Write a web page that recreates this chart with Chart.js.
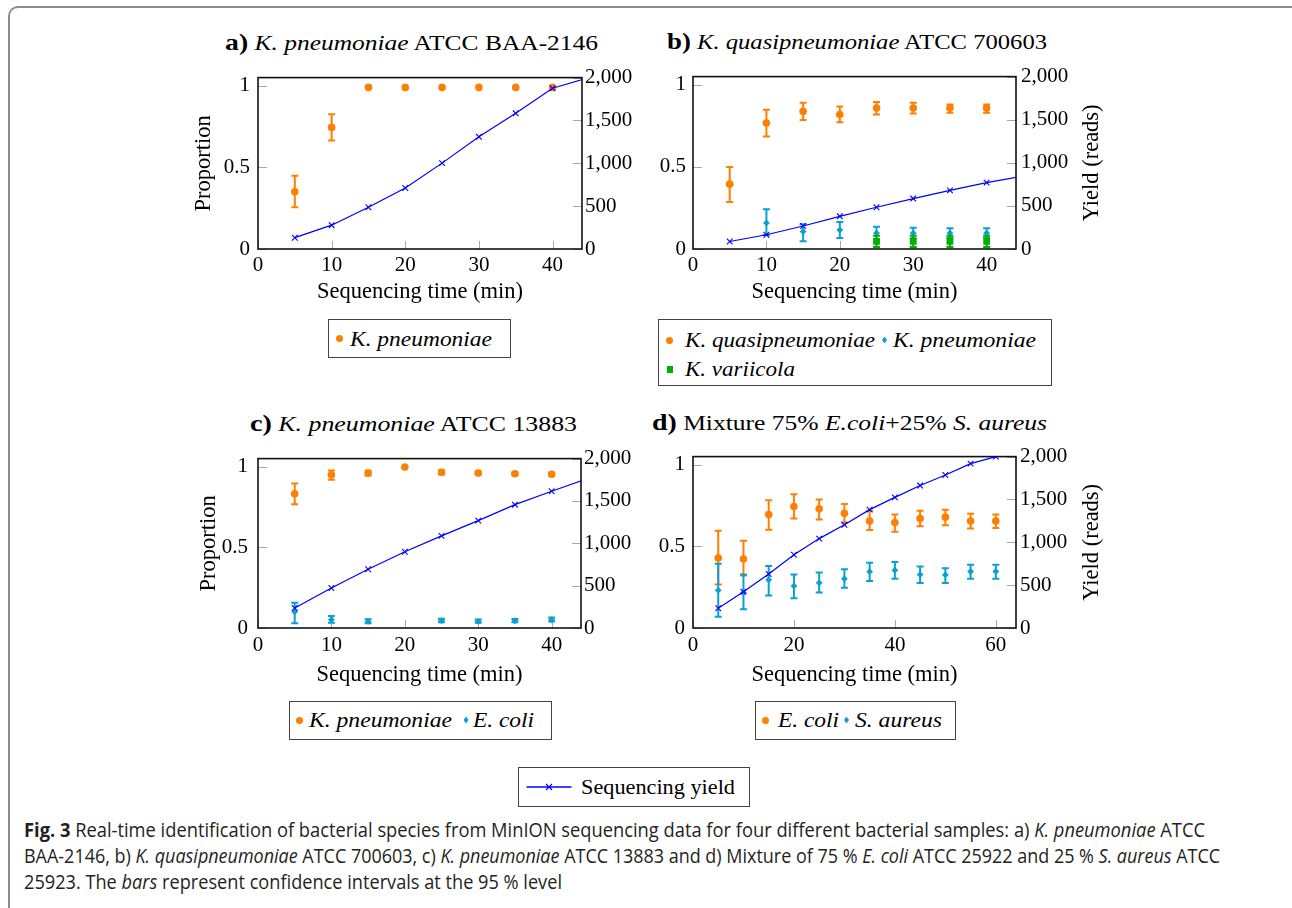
<!DOCTYPE html>
<html><head><meta charset="utf-8"><title>Fig. 3</title>
<script src="https://cdn.jsdelivr.net/npm/chart.js@4.4.1/dist/chart.umd.min.js"></script>
<style>
html,body{margin:0;padding:0;background:#fff;}
body{width:1292px;height:908px;position:relative;overflow:hidden;font-family:"Liberation Serif",serif;color:#000;}
canvas{position:absolute;}
.t{position:absolute;white-space:nowrap;transform-origin:0 0;}
.ttl{font-size:22px;line-height:22px;}
.ttl b{font-size:24px;}
.lg{position:absolute;border:1px solid #444;box-sizing:border-box;background:#fff;}
.lt{font-size:20px;line-height:20px;font-style:italic;}
.mk{position:absolute;}
.dot{width:7px;height:7px;border-radius:50%;background:#ff7f00;}
.dia{width:5px;height:7px;background:#0aa0d2;clip-path:polygon(50% 0,100% 50%,50% 100%,0 50%);}
.sq{width:6px;height:7px;background:#00b000;}
.cap{position:absolute;left:24px;font-family:"Open Sans",sans-serif;font-size:19.5px;line-height:26px;white-space:nowrap;transform-origin:0 0;color:#231f20;}
.frame{position:absolute;left:8px;top:6px;width:1290px;height:930px;border-left:2px solid #8c8c8c;border-top:2px solid #8c8c8c;border-top-left-radius:10px;box-sizing:border-box;}
</style></head><body>
<div class="frame"></div>

<div class="t ttl" data-w="373" style="left:225px;top:30.6px"><b>a)</b> <i>K. pneumoniae</i> ATCC BAA-2146</div>
<div class="t ttl" data-w="380" style="left:667px;top:30px"><b>b)</b> <i>K. quasipneumoniae</i> ATCC 700603</div>
<div class="t ttl" data-w="327" style="left:250px;top:411.6px"><b>c)</b> <i>K. pneumoniae</i> ATCC 13883</div>
<div class="t ttl" data-w="395" style="left:652px;top:411px"><b>d)</b> Mixture 75% <i>E.coli</i>+25% <i>S. aureus</i></div>

<!-- legend a -->
<div class="lg" style="left:328px;top:319px;width:183px;height:39px"></div>
<div class="mk dot" style="left:335.5px;top:335px"></div>
<div class="t lt" data-w="142" style="left:350px;top:328.5px">K. pneumoniae</div>
<!-- legend b -->
<div class="lg" style="left:658px;top:319px;width:394px;height:67px"></div>
<div class="mk dot" style="left:666px;top:336.5px"></div>
<div class="t lt" data-w="190" style="left:685px;top:330px">K. quasipneumoniae</div>
<div class="mk dia" style="left:882px;top:336.5px"></div>
<div class="t lt" data-w="143" style="left:893px;top:330px">K. pneumoniae</div>
<div class="mk sq" style="left:666.5px;top:365.5px"></div>
<div class="t lt" data-w="110" style="left:685px;top:359px">K. variicola</div>
<!-- legend c -->
<div class="lg" style="left:289px;top:701px;width:263px;height:39px"></div>
<div class="mk dot" style="left:296px;top:716.5px"></div>
<div class="t lt" data-w="143" style="left:309px;top:710px">K. pneumoniae</div>
<div class="mk dia" style="left:463.5px;top:716.5px"></div>
<div class="t lt" data-w="61" style="left:473px;top:710px">E. coli</div>
<!-- legend d -->
<div class="lg" style="left:755px;top:701px;width:201px;height:39px"></div>
<div class="mk dot" style="left:761.5px;top:716.5px"></div>
<div class="t lt" data-w="61" style="left:778px;top:710px">E. coli</div>
<div class="mk dia" style="left:844px;top:716.5px"></div>
<div class="t lt" data-w="87" style="left:855px;top:710px">S. aureus</div>
<!-- legend yield -->
<div class="lg" style="left:517.5px;top:767px;width:232px;height:40px"></div>
<svg class="mk" style="left:526px;top:781px" width="46" height="12" viewBox="0 0 46 12">
  <line x1="0.5" y1="6" x2="45.5" y2="6" stroke="#0000ff" stroke-width="1.6"/>
  <line x1="20" y1="3" x2="26" y2="9" stroke="#0000ff" stroke-width="1.1"/>
  <line x1="20" y1="9" x2="26" y2="3" stroke="#0000ff" stroke-width="1.1"/>
</svg>
<div class="t" data-w="154" style="left:581px;top:777px;font-size:20px;line-height:20px">Sequencing yield</div>

<div class="cap" data-w="1181" style="top:817px"><b>Fig. 3</b> Real-time identification of bacterial species from MinION sequencing data for four different bacterial samples: a) <i>K. pneumoniae</i> ATCC</div>
<div class="cap" data-w="1196" style="top:843px">BAA-2146, b) <i>K. quasipneumoniae</i> ATCC 700603, c) <i>K. pneumoniae</i> ATCC 13883 and d) Mixture of 75 % <i>E. coli</i> ATCC 25922 and 25 % <i>S. aureus</i> ATCC</div>
<div class="cap" data-w="538" style="top:869px">25923. The <i>bars</i> represent confidence intervals at the 95 % level</div>

<script>
// ---------------- data ----------------
const xTicksAC = [0, 10, 20, 30, 40];
const xTickLabelsAC = ['0', '10', '20', '30', '40'];
const xTicksD = [0, 20, 40, 60];
const xTickLabelsD = ['0', '20', '40', '60'];
const propTicks = [0, 0.5, 1];
const propTickLabels = ['0', '0.5', '1'];
const yieldTicks = [0, 500, 1000, 1500, 2000];
const yieldTickLabels = ['0', '500', '1,000', '1,500', '2,000'];

// panel a
const timesA = [5, 10, 15, 20, 25, 30, 35, 40];
const aKpn   = [0.35, 0.745, 0.99, 0.99, 0.99, 0.99, 0.99, 0.99];
const aKpnLo = [0.255, 0.665, null, null, null, null, null, null];
const aKpnHi = [0.449, 0.825, null, null, null, null, null, null];
const timesYieldA = [5, 10, 15, 20, 25, 30, 35, 40, 45];
const aYield = [132, 278, 487, 712, 1002, 1309, 1583, 1876, 2003];

// panel b
const timesB = [5, 10, 15, 20, 25, 30, 35, 40];
const bKqp   = [0.395, 0.767, 0.838, 0.819, 0.858, 0.858, 0.858, 0.858];
const bKqpLo = [0.287, 0.685, 0.785, 0.772, 0.819, 0.825, 0.83, 0.83];
const bKqpHi = [0.50, 0.848, 0.89, 0.868, 0.895, 0.89, 0.88, 0.88];
const timesBKpn = [10, 15, 20, 25, 30, 35, 40];
const bKpn   = [0.159, 0.106, 0.116, 0.097, 0.097, 0.097, 0.097];
const bKpnLo = [0.085, 0.047, 0.067, 0.06, 0.065, 0.068, 0.068];
const bKpnHi = [0.242, 0.15, 0.165, 0.136, 0.13, 0.127, 0.127];
const timesBKva = [25, 30, 35, 40];
const bKva   = [0.047, 0.047, 0.047, 0.047];
const bKvaLo = [0.012, 0.012, 0.012, 0.012];
const bKvaHi = [0.081, 0.081, 0.081, 0.081];
const timesYieldB = [5, 10, 15, 20, 25, 30, 35, 40, 45];
const bYield = [87, 165, 267, 379, 484, 585, 680, 770, 845];

// panel c
const timesC = [5, 10, 15, 20, 25, 30, 35, 40];
const cKpn   = [0.832, 0.95, 0.96, 0.998, 0.965, 0.96, 0.956, 0.953];
const cKpnLo = [0.767, 0.919, 0.945, null, 0.952, 0.952, 0.948, 0.945];
const cKpnHi = [0.896, 0.976, 0.975, null, 0.978, 0.97, 0.965, 0.962];
const timesCEco = [5, 10, 15, 25, 30, 35, 40];
const cEco   = [0.10, 0.051, 0.041, 0.045, 0.041, 0.045, 0.051];
const cEcoLo = [0.03, 0.032, 0.03, 0.035, 0.033, 0.036, 0.04];
const cEcoHi = [0.156, 0.075, 0.055, 0.058, 0.052, 0.056, 0.065];
const timesYieldC = [5, 10, 15, 20, 25, 30, 35, 40, 45];
const cYield = [236, 473, 694, 900, 1088, 1268, 1456, 1614, 1769];

// panel d
const timesD = [5, 10, 15, 20, 25, 30, 35, 40, 45, 50, 55, 60];
const dEco   = [0.429, 0.423, 0.695, 0.744, 0.73, 0.703, 0.655, 0.646, 0.671, 0.679, 0.655, 0.655];
const dEcoLo = [0.266, 0.321, 0.602, 0.671, 0.665, 0.646, 0.60, 0.59, 0.624, 0.63, 0.61, 0.612];
const dEcoHi = [0.596, 0.534, 0.783, 0.819, 0.787, 0.76, 0.718, 0.695, 0.718, 0.724, 0.70, 0.695];
const dSau   = [0.232, 0.217, 0.295, 0.258, 0.277, 0.301, 0.345, 0.354, 0.327, 0.325, 0.346, 0.346];
const dSauLo = [0.069, 0.115, 0.199, 0.183, 0.217, 0.246, 0.288, 0.301, 0.276, 0.276, 0.301, 0.301];
const dSauHi = [0.394, 0.327, 0.38, 0.327, 0.34, 0.36, 0.40, 0.405, 0.376, 0.366, 0.388, 0.388];
const dYield = [230, 424, 630, 855, 1043, 1204, 1381, 1524, 1662, 1786, 1918, 2000];

// ---------------- styling ----------------
const ORANGE = '#ff7f00', CYAN = '#0aa0d2', GREEN = '#00b000', BLUE = '#0000ff';
const SERIF = '"Liberation Serif", "Times New Roman", serif';
const tickFont = {family: SERIF, size: 21};
const titleFont = {family: SERIF, size: 22.5};
const LW = 78, RW = 92, TOPPAD = 14, BH = 62, TICK = 8;

function pts(times, vals) { return times.map((t, i) => ({x: t, y: vals[i]})); }
function prop(label, times, vals, lo, hi, color, style, radius, order) {
  return {label, data: pts(times, vals), errLo: lo, errHi: hi, errColor: color,
    backgroundColor: color, borderColor: color, borderWidth: 0, pointBorderWidth: 0,
    pointStyle: style, pointRadius: radius, pointHoverRadius: radius,
    yAxisID: 'y', order, showLine: false};
}
function yld(times, vals, clip) {
  const d = {label: 'Sequencing yield', data: pts(times, vals), yAxisID: 'y1', showLine: true,
    borderColor: BLUE, backgroundColor: BLUE, borderWidth: 1.2, pointStyle: 'crossRot',
    pointRadius: 4, pointHoverRadius: 4, pointBorderColor: BLUE, pointBorderWidth: 1.1,
    fill: false, tension: 0, order: 0};
  if (clip !== undefined) d.clip = clip;
  return d;
}

const figPlugin = {
  id: 'fig',
  beforeDatasetsDraw(chart) {
    const {ctx, chartArea: a, scales} = chart;
    ctx.save();
    ctx.strokeStyle = '#a8a8a8'; ctx.lineWidth = 1;
    ctx.beginPath();
    scales.x.ticks.forEach(t => {
      const x = Math.round(scales.x.getPixelForValue(t.value)) + 0.5;
      ctx.moveTo(x, a.bottom); ctx.lineTo(x, a.bottom - TICK);
    });
    scales.y.ticks.forEach(t => {
      const y = Math.round(scales.y.getPixelForValue(t.value)) + 0.5;
      ctx.moveTo(a.left, y); ctx.lineTo(a.left + TICK + 1, y);
    });
    scales.y1.ticks.forEach(t => {
      const y = Math.round(scales.y1.getPixelForValue(t.value)) + 0.5;
      ctx.moveTo(a.right, y); ctx.lineTo(a.right - TICK - 1, y);
    });
    ctx.stroke();
    ctx.strokeStyle = '#111'; ctx.lineWidth = 1.6;
    ctx.strokeRect(a.left, a.top, a.right - a.left, a.bottom - a.top);
    ctx.restore();
  },
  beforeDatasetDraw(chart, args) {
    const ds = chart.data.datasets[args.index];
    if (!ds.errLo) return;
    const ctx = chart.ctx, xs = chart.scales.x, ys = chart.scales.y;
    ctx.save();
    ctx.strokeStyle = ds.errColor; ctx.lineWidth = 2;
    ctx.beginPath();
    ds.data.forEach((p, i) => {
      const lo = ds.errLo[i], hi = ds.errHi[i];
      if (lo == null || hi == null) return;
      const x = xs.getPixelForValue(p.x), y1 = ys.getPixelForValue(lo), y2 = ys.getPixelForValue(hi);
      ctx.moveTo(x, y1); ctx.lineTo(x, y2);
      ctx.moveTo(x - 3.5, y1); ctx.lineTo(x + 3.5, y1);
      ctx.moveTo(x - 3.5, y2); ctx.lineTo(x + 3.5, y2);
    });
    ctx.stroke();
    ctx.restore();
  },
  afterDraw(chart, args, opts) {
    if (!opts.rightTitle) return;
    const ctx = chart.ctx, a = chart.chartArea;
    ctx.save();
    ctx.font = titleFont.size + 'px ' + SERIF;
    ctx.fillStyle = '#000'; ctx.textAlign = 'center'; ctx.textBaseline = 'middle';
    ctx.translate(a.right + opts.rightOffset, (a.top + a.bottom) / 2);
    ctx.rotate(-Math.PI / 2);
    ctx.fillText(opts.rightTitle, 0, 0);
    ctx.restore();
  }
};

const panels = [
  {area: [258, 582, 71, 249], xMax: 44, xTicks: xTicksAC, xLabels: xTickLabelsAC,
   left: 'Proportion', leftPad: 11, right: null, xTickPad: 3.9, xTitlePad: 5.8, yTickPad: 8, y1TickPad: 3,
   datasets: [yld(timesYieldA, aYield, 0),
              prop('K. pneumoniae', timesA, aKpn, aKpnLo, aKpnHi, ORANGE, 'circle', 3.8, 1)]},
  {area: [693, 1016, 71, 249], xMax: 44, xTicks: xTicksAC, xLabels: xTickLabelsAC,
   left: null, right: 'Yield (reads)', xTickPad: 3.9, xTitlePad: 5.8, yTickPad: 7, y1TickPad: 5,
   datasets: [yld(timesYieldB, bYield, 0),
              prop('K. variicola', timesBKva, bKva, bKvaLo, bKvaHi, GREEN, 'rect', 4.8, 1),
              prop('K. pneumoniae', timesBKpn, bKpn, bKpnLo, bKpnHi, CYAN, 'rectRot', 3.4, 2),
              prop('K. quasipneumoniae', timesB, bKqp, bKqpLo, bKqpHi, ORANGE, 'circle', 3.8, 3)]},
  {area: [258, 581, 450, 628], xMax: 44, xTicks: xTicksAC, xLabels: xTickLabelsAC,
   left: 'Proportion', leftPad: 15.5, right: null, xTickPad: 5.2, xTitlePad: 1.5, yTickPad: 10, y1TickPad: 3,
   datasets: [yld(timesYieldC, cYield, 0),
              prop('E. coli', timesCEco, cEco, cEcoLo, cEcoHi, CYAN, 'rectRot', 3.4, 1),
              prop('K. pneumoniae', timesC, cKpn, cKpnLo, cKpnHi, ORANGE, 'circle', 3.8, 2)]},
  {area: [693, 1016, 450, 628], xMax: 64, xTicks: xTicksD, xLabels: xTickLabelsD,
   left: null, right: 'Yield (reads)', xTickPad: 5.2, xTitlePad: 1.5, yTickPad: 8, y1TickPad: 4,
   datasets: [yld(timesD, dYield),
              prop('S. aureus', timesD, dSau, dSauLo, dSauHi, CYAN, 'rectRot', 3.4, 1),
              prop('E. coli', timesD, dEco, dEcoLo, dEcoHi, ORANGE, 'circle', 3.8, 2)]}
];

panels.forEach(p => {
  const [l, r, t, b] = p.area;
  const W = (r - l) + LW + RW, H = (b - t) + TOPPAD + BH;
  const cv = document.createElement('canvas');
  cv.width = W; cv.height = H;
  cv.style.left = (l - LW) + 'px'; cv.style.top = (t - TOPPAD) + 'px';
  cv.style.width = W + 'px'; cv.style.height = H + 'px';
  document.body.appendChild(cv);
  new Chart(cv, {
    type: 'scatter',
    data: {datasets: p.datasets},
    options: {
      responsive: false, animation: false, devicePixelRatio: 1,
      events: [],
      layout: {padding: {top: TOPPAD, left: 0, right: 0, bottom: 0}},
      plugins: {legend: {display: false}, tooltip: {enabled: false},
                fig: {rightTitle: p.right, rightOffset: 76}},
      scales: {
        x: {type: 'linear', position: 'bottom', min: 0, max: p.xMax,
            afterBuildTicks: s => { s.ticks = p.xTicks.map(v => ({value: v})); },
            afterFit: s => { s.height = BH; },
            grid: {display: false, drawTicks: false}, border: {display: false},
            ticks: {font: tickFont, color: '#000', padding: p.xTickPad, maxRotation: 0, autoSkip: false,
                    callback: (v, i) => p.xLabels[i]},
            title: {display: true, text: 'Sequencing time (min)', font: titleFont, color: '#000',
                    padding: {top: 0, bottom: p.xTitlePad}}},
        y: {type: 'linear', position: 'left', min: 0, max: 1.05,
            afterBuildTicks: s => { s.ticks = propTicks.map(v => ({value: v})); },
            afterFit: s => { s.width = LW; },
            grid: {display: false, drawTicks: false}, border: {display: false},
            ticks: {font: tickFont, color: '#000', padding: p.yTickPad, autoSkip: false,
                    callback: (v, i) => propTickLabels[i]},
            title: p.left ? {display: true, text: p.left, font: titleFont, color: '#000',
                    padding: {top: p.leftPad, bottom: 0}} : {display: false}},
        y1: {type: 'linear', position: 'right', min: 0, max: 2000,
            afterBuildTicks: s => { s.ticks = yieldTicks.map(v => ({value: v})); },
            afterFit: s => { s.width = RW; },
            grid: {display: false, drawTicks: false}, border: {display: false},
            ticks: {font: tickFont, color: '#000', padding: p.y1TickPad, autoSkip: false,
                    callback: (v, i) => yieldTickLabels[i]},
            title: {display: false}}
      }
    },
    plugins: [figPlugin]
  });
});

// fit text widths to the reference
document.querySelectorAll('[data-w]').forEach(el => {
  const nat = el.getBoundingClientRect().width;
  const w = parseFloat(el.dataset.w);
  if (nat > 0) el.style.transform = 'scaleX(' + (w / nat).toFixed(4) + ')';
});
</script>
</body></html>
